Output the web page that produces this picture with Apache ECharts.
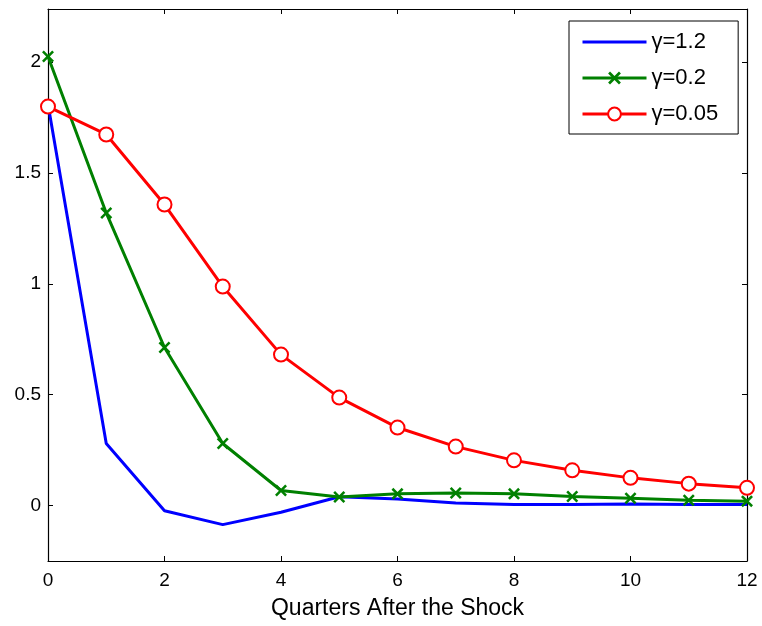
<!DOCTYPE html>
<html>
<head>
<meta charset="utf-8">
<script src="https://cdn.jsdelivr.net/npm/echarts@6/dist/echarts.min.js"></script>
<style>
  html, body { margin: 0; padding: 0; background: #fff; }
  #chart-container { width: 762px; height: 626px; }
</style>
</head>
<body>
<div id="chart-container"></div>
<script>
var quarters = [0, 1, 2, 3, 4, 5, 6, 7, 8, 9, 10, 11, 12];
var gamma12 = [1.81, 0.28, -0.023, -0.086, -0.03, 0.04, 0.03, 0.012, 0.005, 0.005, 0.007, 0.005, 0.005];
var gamma02 = [2.026, 1.32, 0.713, 0.28, 0.068, 0.039, 0.053, 0.057, 0.053, 0.041, 0.033, 0.024, 0.02];
var gamma005 = [1.80, 1.674, 1.358, 0.988, 0.681, 0.487, 0.352, 0.266, 0.204, 0.159, 0.125, 0.099, 0.08];
var seriesNames = ['\u03b3=1.2', '\u03b3=0.2', '\u03b3=0.05'];

function pairs(ys) {
  return quarters.map(function (q, i) { return [q, ys[i]]; });
}

var dom = document.getElementById('chart-container');
var myChart = echarts.init(dom, null, { renderer: 'canvas' });

var font = 'Arial, "Liberation Sans", Helvetica, sans-serif';
var crossPath = 'path://M0,1.5 L1.5,0 L5,3.5 L8.5,0 L10,1.5 L6.5,5 L10,8.5 L8.5,10 L5,6.5 L1.5,10 L0,8.5 L3.5,5 Z';
// plain line icon for the blue series (degenerate corners keep the full box)
var lineIcon = 'path://M0,0 L0.01,0 Z M0,6.5 L64,6.5 L64,9.5 L0,9.5 Z M0,16 L0.01,16 Z';

var frameX = {
  type: 'value', min: 0, max: 12, interval: 2,
  axisLine: { show: true, onZero: false, lineStyle: { color: '#000', width: 1.2 } },
  axisTick: { show: true, inside: true, length: 5, lineStyle: { color: '#000' } },
  splitLine: { show: false }
};
var frameY = {
  type: 'value', min: -0.25, max: 2.24, splitNumber: 5,
  axisLine: { show: true, onZero: false, lineStyle: { color: '#000', width: 1.2 } },
  axisTick: { show: true, inside: true, length: 5, lineStyle: { color: '#000' } },
  splitLine: { show: false }
};

var option = {
  backgroundColor: '#fff',
  animation: false,
  grid: { left: 48, right: 15, top: 9, bottom: 65 },
  legend: {
    orient: 'vertical',
    left: 569,
    top: 21,
    padding: [10, 20, 9, 12],
    itemGap: 14,
    itemWidth: 64,
    itemHeight: 16,
    borderColor: '#000',
    borderWidth: 1,
    backgroundColor: '#fff',
    borderRadius: 0,
    lineStyle: { width: 3 },
    textStyle: { fontFamily: font, fontSize: 22, color: '#000', lineHeight: 16 },
    data: [
      { name: seriesNames[0], icon: lineIcon },
      seriesNames[1],
      seriesNames[2]
    ]
  },
  xAxis: [
    Object.assign({}, frameX, {
      position: 'bottom',
      name: 'Quarters After the Shock',
      nameLocation: 'middle',
      nameGap: 36,
      nameTextStyle: { fontFamily: font, fontSize: 23, color: '#000' },
      axisLabel: { fontFamily: font, fontSize: 19, color: '#000', margin: 10 }
    }),
    Object.assign({}, frameX, { position: 'top', axisLabel: { show: false } })
  ],
  yAxis: [
    Object.assign({}, frameY, {
      position: 'left',
      axisLabel: {
        fontFamily: font, fontSize: 19, color: '#000', margin: 7,
        showMinLabel: false, showMaxLabel: false
      }
    }),
    Object.assign({}, frameY, { position: 'right', axisLabel: { show: false } })
  ],
  series: [
    {
      name: seriesNames[0],
      type: 'line',
      data: pairs(gamma12),
      showSymbol: false,
      symbol: 'none',
      lineStyle: { color: '#0000ff', width: 3 },
      itemStyle: { color: '#0000ff' }
    },
    {
      name: seriesNames[1],
      type: 'line',
      data: pairs(gamma02),
      symbol: crossPath,
      symbolSize: 12,
      lineStyle: { color: '#008000', width: 3 },
      itemStyle: { color: '#008000' }
    },
    {
      name: seriesNames[2],
      type: 'line',
      data: pairs(gamma005),
      symbol: 'emptyCircle',
      symbolSize: 14,
      lineStyle: { color: '#ff0000', width: 3 },
      itemStyle: { color: '#ff0000', borderColor: '#ff0000', borderWidth: 2.5 }
    }
  ]
};

myChart.setOption(option);
window.addEventListener('resize', myChart.resize);
</script>
</body>
</html>
